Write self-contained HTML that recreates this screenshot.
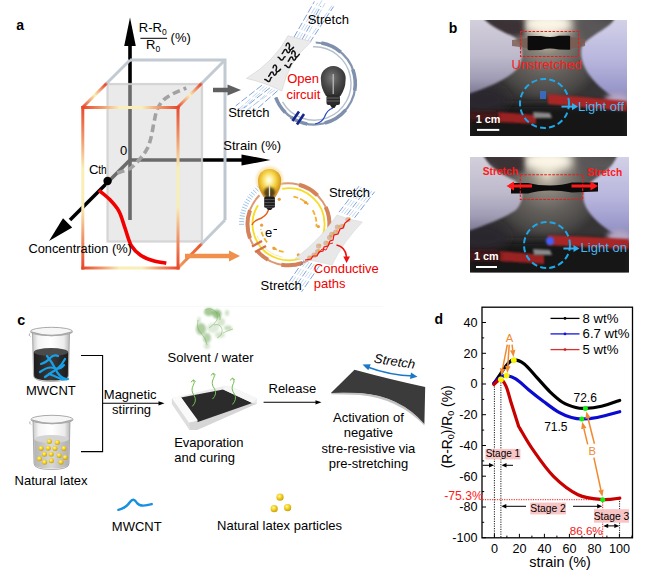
<!DOCTYPE html>
<html><head><meta charset="utf-8"><style>
html,body{margin:0;padding:0;background:#fff;}
svg{display:block;}
</style></head><body>
<svg width="653" height="580" viewBox="0 0 653 580">
<rect width="653" height="580" fill="#fff"/>
<defs>
<linearGradient id="gTop" x1="83" y1="0" x2="178" y2="0" gradientUnits="userSpaceOnUse">
 <stop offset="0" stop-color="#e8482c"/><stop offset="0.2" stop-color="#f09a6c"/><stop offset="0.38" stop-color="#f8eeb6"/><stop offset="0.62" stop-color="#f8eeb6"/><stop offset="0.8" stop-color="#f09a6c"/><stop offset="1" stop-color="#e8482c"/></linearGradient>
<linearGradient id="gBot" x1="83" y1="0" x2="178" y2="0" gradientUnits="userSpaceOnUse">
 <stop offset="0" stop-color="#e8482c"/><stop offset="0.2" stop-color="#f09a6c"/><stop offset="0.38" stop-color="#f8eeb6"/><stop offset="0.62" stop-color="#f8eeb6"/><stop offset="0.8" stop-color="#f09a6c"/><stop offset="1" stop-color="#e8482c"/></linearGradient>
<linearGradient id="gLeft" x1="0" y1="107" x2="0" y2="268" gradientUnits="userSpaceOnUse">
 <stop offset="0" stop-color="#e8482c"/><stop offset="0.2" stop-color="#f09a6c"/><stop offset="0.38" stop-color="#f8eeb6"/><stop offset="0.62" stop-color="#f8eeb6"/><stop offset="0.8" stop-color="#f09a6c"/><stop offset="1" stop-color="#e8482c"/></linearGradient>
<linearGradient id="gRight" x1="0" y1="107" x2="0" y2="268" gradientUnits="userSpaceOnUse">
 <stop offset="0" stop-color="#e8482c"/><stop offset="0.2" stop-color="#f09a6c"/><stop offset="0.38" stop-color="#f8eeb6"/><stop offset="0.62" stop-color="#f8eeb6"/><stop offset="0.8" stop-color="#f09a6c"/><stop offset="1" stop-color="#e8482c"/></linearGradient>
<linearGradient id="gDiagL" x1="83" y1="107" x2="130" y2="60" gradientUnits="userSpaceOnUse">
 <stop offset="0" stop-color="#e8482c"/><stop offset="0.25" stop-color="#f9f0b4"/><stop offset="0.48" stop-color="#e8482c"/><stop offset="0.52" stop-color="#c2cad2"/><stop offset="1" stop-color="#c2cad2"/></linearGradient>
<linearGradient id="gDiagR" x1="178" y1="107" x2="225" y2="60" gradientUnits="userSpaceOnUse">
 <stop offset="0" stop-color="#e8482c"/><stop offset="0.25" stop-color="#f9f0b4"/><stop offset="0.48" stop-color="#e8482c"/><stop offset="0.52" stop-color="#c2cad2"/><stop offset="1" stop-color="#c2cad2"/></linearGradient>
<linearGradient id="gDiagB" x1="178" y1="268" x2="225" y2="220" gradientUnits="userSpaceOnUse">
 <stop offset="0" stop-color="#f0a060"/><stop offset="0.48" stop-color="#e8582c"/><stop offset="0.52" stop-color="#c2cad2"/><stop offset="1" stop-color="#c2cad2"/></linearGradient>
<linearGradient id="gBack" x1="0" y1="60" x2="0" y2="220" gradientUnits="userSpaceOnUse">
 <stop offset="0" stop-color="#c2cad2"/><stop offset="1" stop-color="#bcc6ce"/></linearGradient>
<radialGradient id="bulbOff" cx="0.45" cy="0.4" r="0.6">
 <stop offset="0" stop-color="#7a7a7a"/><stop offset="0.55" stop-color="#4c4c4c"/><stop offset="1" stop-color="#303030"/></radialGradient>
<radialGradient id="bulbOn" cx="0.47" cy="0.4" r="0.6">
 <stop offset="0" stop-color="#ffffff"/><stop offset="0.2" stop-color="#fff4b0"/><stop offset="0.55" stop-color="#f2cc38"/><stop offset="0.85" stop-color="#d49a22"/><stop offset="1" stop-color="#e8a040"/></radialGradient>
<radialGradient id="ball" cx="0.4" cy="0.35" r="0.65">
 <stop offset="0" stop-color="#fff8a0"/><stop offset="0.5" stop-color="#f4d020"/><stop offset="1" stop-color="#c8a010"/></radialGradient>
<linearGradient id="glass" x1="0" y1="0" x2="1" y2="0">
 <stop offset="0" stop-color="#c8c8c8"/><stop offset="0.15" stop-color="#f4f4f4"/><stop offset="0.5" stop-color="#ffffff"/><stop offset="0.85" stop-color="#ececec"/><stop offset="1" stop-color="#b8b8b8"/></linearGradient>
<linearGradient id="liqDark" x1="0" y1="0" x2="1" y2="0">
 <stop offset="0" stop-color="#1c1c1c"/><stop offset="0.5" stop-color="#3a3a3a"/><stop offset="1" stop-color="#1c1c1c"/></linearGradient>
<linearGradient id="liqLight" x1="0" y1="0" x2="1" y2="0">
 <stop offset="0" stop-color="#b4b4b4"/><stop offset="0.5" stop-color="#d8d8d8"/><stop offset="1" stop-color="#b0b0b0"/></linearGradient>
<filter id="b1" x="-50%" y="-50%" width="200%" height="200%"><feGaussianBlur stdDeviation="1"/></filter>
<filter id="b2" x="-50%" y="-50%" width="200%" height="200%"><feGaussianBlur stdDeviation="2.5"/></filter>
<filter id="b4" x="-50%" y="-50%" width="200%" height="200%"><feGaussianBlur stdDeviation="5"/></filter>
<filter id="b8" x="-50%" y="-50%" width="200%" height="200%"><feGaussianBlur stdDeviation="9"/></filter>
<filter id="u1" filterUnits="userSpaceOnUse" x="0" y="0" width="653" height="580"><feGaussianBlur stdDeviation="1"/></filter>
<filter id="u2" filterUnits="userSpaceOnUse" x="0" y="0" width="653" height="580"><feGaussianBlur stdDeviation="2.5"/></filter>
<filter id="u4" filterUnits="userSpaceOnUse" x="0" y="0" width="653" height="580"><feGaussianBlur stdDeviation="5"/></filter>
<radialGradient id="tableG" cx="0.5" cy="0.5" r="0.5">
 <stop offset="0" stop-color="#d8d0bc"/><stop offset="0.25" stop-color="#8c867c"/><stop offset="0.55" stop-color="#64605c"/><stop offset="0.85" stop-color="#4a4846"/><stop offset="1" stop-color="#363434"/></radialGradient>
<linearGradient id="handL" x1="0" y1="0" x2="0" y2="1">
 <stop offset="0" stop-color="#d4d0dc"/><stop offset="0.5" stop-color="#bebacc"/><stop offset="0.8" stop-color="#a09cb4"/><stop offset="1" stop-color="#7c7892"/></linearGradient>
<linearGradient id="handR" x1="0" y1="0" x2="0" y2="1">
 <stop offset="0" stop-color="#d4d2e8"/><stop offset="0.5" stop-color="#b6b4dc"/><stop offset="0.8" stop-color="#9a98ca"/><stop offset="1" stop-color="#7c7aa6"/></linearGradient>
<clipPath id="ph1"><rect x="470" y="20" width="157" height="116"/></clipPath>
<clipPath id="ph2"><rect x="470" y="157" width="159" height="115.5"/></clipPath>
<marker id="ahK" viewBox="0 0 10 10" refX="9" refY="5" markerWidth="7" markerHeight="7" markerUnits="userSpaceOnUse" orient="auto"><path d="M0,1 L10,5 L0,9 z" fill="#000"/></marker>
</defs>
<text x="16.2" y="29.8" font-family="'Liberation Sans', sans-serif" font-size="14" font-weight="bold">a</text>
<line x1="130" y1="44" x2="130" y2="220" stroke="#000" stroke-width="3.6"/>
<polygon points="130,17.5 124.2,46 135.8,46" fill="#000"/>
<line x1="130" y1="160" x2="243" y2="160" stroke="#000" stroke-width="3.6"/>
<polygon points="270.5,160 241.5,154.4 241.5,165.6" fill="#000"/>
<line x1="130" y1="160" x2="70" y2="220" stroke="#000" stroke-width="3.6"/>
<polygon points="49,241 63,218.2 72.2,227.4" fill="#000"/>
<rect x="107.5" y="84" width="94.5" height="157.5" fill="rgb(214,214,214)" fill-opacity="0.5" stroke="#cfcfcf" stroke-opacity="0.85" stroke-width="2.2"/>
<path d="M117.1,173.0 C119.3,172.2 126.5,170.7 130.4,168.2 C134.4,165.7 138.0,161.1 140.8,157.8 C143.6,154.5 145.7,151.8 147.4,148.3 C149.1,144.8 150.1,141.3 151.2,136.9 C152.3,132.5 153.1,126.1 154.1,121.7 C155.1,117.3 155.5,113.9 156.9,110.4 C158.3,106.9 160.1,103.6 162.6,100.9 C165.1,98.2 168.1,96.4 172.1,94.2 C176.1,92.0 183.9,89.0 186.3,88.0" fill="none" stroke="#a2a2a2" stroke-width="3.6" stroke-dasharray="7.5,4"/>
<polyline points="130,60 225,60 225,220" fill="none" stroke="url(#gBack)" stroke-width="3"/>
<line x1="83" y1="107" x2="130" y2="60" stroke="url(#gDiagL)" stroke-width="3"/>
<line x1="178" y1="107" x2="225" y2="60" stroke="url(#gDiagR)" stroke-width="3"/>
<line x1="178" y1="268" x2="225" y2="220" stroke="url(#gDiagB)" stroke-width="3"/>
<line x1="81.3" y1="107.5" x2="179.5" y2="107.5" stroke="url(#gTop)" stroke-width="3"/>
<line x1="81.3" y1="268" x2="179.5" y2="268" stroke="url(#gBot)" stroke-width="3"/>
<line x1="82.8" y1="106" x2="82.8" y2="269.5" stroke="url(#gLeft)" stroke-width="3"/>
<line x1="178" y1="106" x2="178" y2="269.5" stroke="url(#gRight)" stroke-width="3"/>
<path d="M98.9,190.4 C100.6,191.8 105.9,195.5 109.2,199.0 C112.5,202.5 116.3,206.4 119.0,211.3 C121.7,216.2 123.0,222.7 125.1,228.4 C127.1,234.1 128.7,241.1 131.3,245.6 C134.0,250.1 137.3,252.9 141.0,255.4 C144.7,257.9 149.1,259.5 153.3,260.8 C157.5,262.1 164.1,262.8 166.3,263.2" fill="none" stroke="#f20000" stroke-width="3.6"/>
<circle cx="107.6" cy="181" r="4.2" fill="#000"/>
<text x="120.0" y="155" font-family="'Liberation Sans', sans-serif" font-size="13">0</text>
<text x="88.9" y="173.5" font-family="'Liberation Sans', sans-serif" font-size="13.2">C</text>
<text transform="translate(98.3,173.5) scale(0.8,1)" font-family="'Liberation Sans', sans-serif" font-size="12.6">th</text>
<text x="28.4" y="252.8" font-family="'Liberation Sans', sans-serif" font-size="12.85">Concentration (%)</text>
<text x="223.3" y="149.6" font-family="'Liberation Sans', sans-serif" font-size="13">Strain (%)</text>
<text x="138.8" y="32.4" font-family="'Liberation Sans', sans-serif" font-size="13">R-R<tspan font-size="8.5" dy="2.6">0</tspan></text>
<line x1="140.4" y1="38.3" x2="167.1" y2="38.3" stroke="#000" stroke-width="1"/>
<text x="146.0" y="49.3" font-family="'Liberation Sans', sans-serif" font-size="13">R<tspan font-size="8.5" dy="2.6">0</tspan></text>
<text x="170.6" y="42.3" font-family="'Liberation Sans', sans-serif" font-size="13">(%)</text>
<line x1="213" y1="90" x2="229" y2="90" stroke="#606060" stroke-width="4.5"/>
<polygon points="241,90 227.5,84.5 227.5,95.5" fill="#606060"/>
<line x1="185" y1="256" x2="231" y2="256" stroke="#f0904c" stroke-width="4.5"/>
<polygon points="240,256 229,250.5 229,261.5" fill="#f0904c"/>
<line x1="294.0" y1="37.2" x2="314.4" y2="1.5" stroke="#4a7ac8" stroke-width="0.7" stroke-dasharray="7,2.5"/>
<line x1="296.6" y1="38.1" x2="317.8" y2="2.7" stroke="#a8c4e8" stroke-width="0.7" stroke-dasharray="7,2.5"/>
<line x1="299.2" y1="39.0" x2="322.0" y2="0.4" stroke="#a8c4e8" stroke-width="0.7" stroke-dasharray="7,2.5"/>
<line x1="301.8" y1="39.9" x2="320.9" y2="6.0" stroke="#4a7ac8" stroke-width="0.7" stroke-dasharray="7,2.5"/>
<line x1="304.4" y1="40.8" x2="325.0" y2="3.2" stroke="#a8c4e8" stroke-width="0.7" stroke-dasharray="7,2.5"/>
<line x1="307.0" y1="41.8" x2="332.0" y2="5.6" stroke="#a8c4e8" stroke-width="0.7" stroke-dasharray="7,2.5"/>
<line x1="309.6" y1="42.7" x2="333.6" y2="6.5" stroke="#4a7ac8" stroke-width="0.7" stroke-dasharray="7,2.5"/>
<line x1="262.0" y1="85.2" x2="235.8" y2="105.8" stroke="#4a7ac8" stroke-width="0.7" stroke-dasharray="7,2.5"/>
<line x1="264.6" y1="86.1" x2="238.4" y2="109.6" stroke="#a8c4e8" stroke-width="0.7" stroke-dasharray="7,2.5"/>
<line x1="267.2" y1="87.0" x2="240.3" y2="110.0" stroke="#a8c4e8" stroke-width="0.7" stroke-dasharray="7,2.5"/>
<line x1="269.8" y1="87.9" x2="243.8" y2="108.2" stroke="#4a7ac8" stroke-width="0.7" stroke-dasharray="7,2.5"/>
<line x1="272.4" y1="88.8" x2="246.9" y2="111.2" stroke="#a8c4e8" stroke-width="0.7" stroke-dasharray="7,2.5"/>
<line x1="275.0" y1="89.8" x2="246.8" y2="109.9" stroke="#a8c4e8" stroke-width="0.7" stroke-dasharray="7,2.5"/>
<line x1="277.6" y1="90.7" x2="252.8" y2="112.6" stroke="#4a7ac8" stroke-width="0.7" stroke-dasharray="7,2.5"/>
<path d="M313.0,46.8 A36.7,36.7 0 1 1 282.5,101.8" fill="none" stroke="#b4c0cc" stroke-width="1.4"/>
<path d="M315.7,42.5 A41.0,41.0 0 1 1 275.8,97.5" fill="none" stroke="#8495b0" stroke-width="2.2"/>
<path d="M321.4,43.1 A41.0,41.0 0 0 1 340.7,52.1" fill="none" stroke="#7f90ac" stroke-width="3.6"/>
<path d="M352.8,69.5 A41.0,41.0 0 0 1 354.7,90.6" fill="none" stroke="#7f90ac" stroke-width="3.6"/>
<path d="M345.7,109.9 A41.0,41.0 0 0 1 324.9,123.1" fill="none" stroke="#7f90ac" stroke-width="3.6"/>
<path d="M307.2,123.9 A41.0,41.0 0 0 1 290.8,117.1" fill="none" stroke="#7f90ac" stroke-width="3.6"/>
<path d="M285.3,112.5 A41.0,41.0 0 0 1 275.8,97.5" fill="none" stroke="#7f90ac" stroke-width="3.6"/>
<line x1="292.5" y1="121" x2="299" y2="111.5" stroke="#16258c" stroke-width="2.6"/>
<line x1="297" y1="124.5" x2="304" y2="114" stroke="#16258c" stroke-width="2.6"/>
<path d="M288,35.8 Q300,39 311.4,41.4 Q288,62 281.8,91 Q263,82 246.4,78.4 Q274,62 288,35.8 Z" fill="#ebebeb" stroke="#d0d0d0" stroke-width="0.6"/>
<path transform="translate(290,45) rotate(-11)" d="M-4,0 c1,-3 3,-3 3.5,-0.5 c0.5,2.5 -2,3 -1,4.5 c1,1.5 3,0 4.5,-1" fill="none" stroke="#111" stroke-width="1.5" stroke-linecap="round"/>
<path transform="translate(286,52) rotate(-8)" d="M-4,1 c2,-1 2,-4 4,-3.5 c2,0.5 0,3 2,3.5 c1.5,0.3 2,-1.5 2.5,-2.5" fill="none" stroke="#111" stroke-width="1.5" stroke-linecap="round"/>
<path transform="translate(281.5,59.5) rotate(3)" d="M-3.5,-2 c2,0 2,3 4,2.5 c2,-0.5 1,-3.5 3,-3.5" fill="none" stroke="#111" stroke-width="1.5" stroke-linecap="round"/>
<path transform="translate(277,67) rotate(-11)" d="M-4,0 c1,-3 3,-3 3.5,-0.5 c0.5,2.5 -2,3 -1,4.5 c1,1.5 3,0 4.5,-1" fill="none" stroke="#111" stroke-width="1.5" stroke-linecap="round"/>
<path transform="translate(272.5,74.5) rotate(-10)" d="M-4,1 c2,-1 2,-4 4,-3.5 c2,0.5 0,3 2,3.5 c1.5,0.3 2,-1.5 2.5,-2.5" fill="none" stroke="#111" stroke-width="1.5" stroke-linecap="round"/>
<path transform="translate(268.5,81) rotate(-7)" d="M-3.5,-2 c2,0 2,3 4,2.5 c2,-0.5 1,-3.5 3,-3.5" fill="none" stroke="#111" stroke-width="1.5" stroke-linecap="round"/>
<path transform="translate(295.5,52.5) rotate(-19)" d="M-4,0 c1,-3 3,-3 3.5,-0.5 c0.5,2.5 -2,3 -1,4.5 c1,1.5 3,0 4.5,-1" fill="none" stroke="#111" stroke-width="1.5" stroke-linecap="round"/>
<path transform="translate(292,59.5) rotate(-10)" d="M-4,1 c2,-1 2,-4 4,-3.5 c2,0.5 0,3 2,3.5 c1.5,0.3 2,-1.5 2.5,-2.5" fill="none" stroke="#111" stroke-width="1.5" stroke-linecap="round"/>
<path transform="translate(288.5,67) rotate(-6)" d="M-3.5,-2 c2,0 2,3 4,2.5 c2,-0.5 1,-3.5 3,-3.5" fill="none" stroke="#111" stroke-width="1.5" stroke-linecap="round"/>
<path d="M326,96 Q321,88 321,81 A12.5,12.5 0 1 1 345.5,81 Q345.5,88 340.5,96 Z" fill="url(#bulbOff)"/>
<rect x="326.5" y="95" width="13.5" height="10" rx="2" fill="#2a2a2a"/>
<line x1="326.5" y1="98" x2="340" y2="98" stroke="#777" stroke-width="0.8"/><line x1="326.5" y1="101" x2="340" y2="101" stroke="#777" stroke-width="0.8"/>
<path d="M330,105 L336.5,105 L334.5,108 L332,108 Z" fill="#222"/>
<line x1="333.2" y1="74" x2="333.2" y2="94" stroke="#c8c8c8" stroke-width="1.1"/>
<path d="M333,108 Q327,110 324.5,117 Q322,122.5 315,124" fill="none" stroke="#2848c0" stroke-width="1.2"/>
<text x="307.7" y="23.5" font-family="'Liberation Sans', sans-serif" font-size="13">Stretch</text>
<text x="228.2" y="116.5" font-family="'Liberation Sans', sans-serif" font-size="13">Stretch</text>
<text x="287.2" y="83.4" font-family="'Liberation Sans', sans-serif" font-size="13" fill="#f00000">Open</text>
<text x="286.4" y="99" font-family="'Liberation Sans', sans-serif" font-size="13" fill="#f00000">circuit</text>
<line x1="244.0" y1="224.3" x2="239.0" y2="224.3" stroke="#9cc4ec" stroke-width="1"/>
<line x1="244.1" y1="221.7" x2="239.1" y2="221.4" stroke="#9cc4ec" stroke-width="1"/>
<line x1="244.3" y1="219.0" x2="239.3" y2="218.4" stroke="#9cc4ec" stroke-width="1"/>
<line x1="244.7" y1="216.4" x2="239.8" y2="215.5" stroke="#9cc4ec" stroke-width="1"/>
<line x1="245.2" y1="213.8" x2="240.4" y2="212.7" stroke="#9cc4ec" stroke-width="1"/>
<line x1="245.9" y1="211.3" x2="241.2" y2="209.8" stroke="#9cc4ec" stroke-width="1"/>
<line x1="246.8" y1="208.8" x2="242.1" y2="207.0" stroke="#9cc4ec" stroke-width="1"/>
<line x1="247.8" y1="206.3" x2="243.2" y2="204.3" stroke="#9cc4ec" stroke-width="1"/>
<line x1="248.9" y1="204.0" x2="244.5" y2="201.7" stroke="#9cc4ec" stroke-width="1"/>
<line x1="250.2" y1="201.6" x2="245.9" y2="199.1" stroke="#9cc4ec" stroke-width="1"/>
<line x1="251.6" y1="199.4" x2="247.5" y2="196.6" stroke="#9cc4ec" stroke-width="1"/>
<line x1="253.1" y1="197.3" x2="249.2" y2="194.2" stroke="#9cc4ec" stroke-width="1"/>
<line x1="254.8" y1="195.2" x2="251.0" y2="192.0" stroke="#9cc4ec" stroke-width="1"/>
<line x1="256.6" y1="193.3" x2="253.0" y2="189.8" stroke="#9cc4ec" stroke-width="1"/>
<line x1="258.5" y1="191.4" x2="255.1" y2="187.7" stroke="#9cc4ec" stroke-width="1"/>
<line x1="260.5" y1="189.7" x2="257.3" y2="185.8" stroke="#9cc4ec" stroke-width="1"/>
<path d="M268.0,188.8 A41.0,41.0 0 1 1 257.1,250.7" fill="none" stroke="#dc9a74" stroke-width="2"/>
<path d="M253.0,244.8 A41.0,41.0 0 0 1 259.5,195.3" fill="none" stroke="#dc9a74" stroke-width="2"/>
<path d="M299.1,184.7 A41.0,41.0 0 0 1 317.5,195.3" fill="none" stroke="#d4825a" stroke-width="4"/>
<path d="M325.7,207.0 A41.0,41.0 0 0 1 329.3,227.9" fill="none" stroke="#d4825a" stroke-width="4"/>
<path d="M302.5,262.8 A41.0,41.0 0 0 1 281.4,264.7" fill="none" stroke="#d4825a" stroke-width="4"/>
<path d="M268.0,259.8 A41.0,41.0 0 0 1 257.1,250.7" fill="none" stroke="#d4825a" stroke-width="4"/>
<path d="M250.0,238.3 A41.0,41.0 0 0 1 250.0,210.3" fill="none" stroke="#d4825a" stroke-width="4"/>
<path d="M282.2,188.8 A36.0,36.0 0 1 1 258.0,205.2" fill="none" stroke="#f6dc24" stroke-width="1.8"/>
<path d="M282.7,257.3 A33.5,33.5 0 0 1 257.0,235.8" fill="none" stroke="#f8ecb0" stroke-width="1"/>
<path d="M293.4,196.7 A28.0,28.0 0 0 1 308.3,204.5" fill="none" stroke="#f4b030" stroke-width="1.8" stroke-dasharray="5,2"/>
<path d="M312.7,210.3 A28.0,28.0 0 0 1 316.4,226.7" fill="none" stroke="#f4b030" stroke-width="1.8" stroke-dasharray="5,2"/>
<path d="M283.6,251.9 A28.0,28.0 0 0 1 272.4,247.2" fill="none" stroke="#f4b030" stroke-width="1.8" stroke-dasharray="5,2"/>
<path d="M267.1,242.3 A28.0,28.0 0 0 1 260.9,229.2" fill="none" stroke="#f4b030" stroke-width="1.8" stroke-dasharray="5,2"/>
<circle cx="279.3" cy="199.3" r="1.6" fill="#e8a040"/>
<circle cx="305.5" cy="202.4" r="1.6" fill="#e8a040"/>
<circle cx="318.4" cy="226.6" r="1.6" fill="#e8a040"/>
<circle cx="261.6" cy="225.2" r="1.6" fill="#e8a040"/>
<circle cx="274.1" cy="248.4" r="1.6" fill="#e8a040"/>
<circle cx="298.3" cy="254.8" r="1.6" fill="#e8a040"/>
<circle cx="312" cy="254.1" r="1.6" fill="#e8a040"/>
<line x1="252" y1="246.5" x2="262" y2="241" stroke="#d4704a" stroke-width="2.4"/>
<line x1="255" y1="252" x2="266" y2="246" stroke="#d4704a" stroke-width="2.4"/>
<path d="M337,215 Q350,220 362.5,222 Q343,242 332,265 Q313,260 295,258.5 Q320,240 337,215 Z" fill="#e8e8e8" stroke="#d4d4d4" stroke-width="0.5"/>
<circle cx="309.6" cy="258.0" r="2.6" fill="#c89070" opacity="0.55"/>
<circle cx="311.1" cy="257.0" r="1.2" fill="#e8b040" opacity="0.9"/>
<circle cx="314.1" cy="255.2" r="2.6" fill="#c89070" opacity="0.55"/>
<circle cx="315.6" cy="254.2" r="1.2" fill="#e8b040" opacity="0.9"/>
<circle cx="317.6" cy="251.5" r="2.6" fill="#c89070" opacity="0.55"/>
<circle cx="319.1" cy="250.5" r="1.2" fill="#e8b040" opacity="0.9"/>
<circle cx="318.6" cy="246.1" r="2.6" fill="#c89070" opacity="0.55"/>
<circle cx="320.1" cy="245.1" r="1.2" fill="#e8b040" opacity="0.9"/>
<circle cx="326.0" cy="243.2" r="2.6" fill="#c89070" opacity="0.55"/>
<circle cx="327.5" cy="242.2" r="1.2" fill="#e8b040" opacity="0.9"/>
<circle cx="329.6" cy="237.5" r="2.6" fill="#c89070" opacity="0.55"/>
<circle cx="331.1" cy="236.5" r="1.2" fill="#e8b040" opacity="0.9"/>
<circle cx="331.7" cy="234.4" r="2.6" fill="#c89070" opacity="0.55"/>
<circle cx="333.2" cy="233.4" r="1.2" fill="#e8b040" opacity="0.9"/>
<circle cx="335.7" cy="232.1" r="2.6" fill="#c89070" opacity="0.55"/>
<circle cx="337.2" cy="231.1" r="1.2" fill="#e8b040" opacity="0.9"/>
<circle cx="337.4" cy="227.1" r="2.6" fill="#c89070" opacity="0.55"/>
<circle cx="338.9" cy="226.1" r="1.2" fill="#e8b040" opacity="0.9"/>
<circle cx="342.2" cy="226.3" r="2.6" fill="#c89070" opacity="0.55"/>
<circle cx="343.7" cy="225.3" r="1.2" fill="#e8b040" opacity="0.9"/>
<circle cx="348.0" cy="219.6" r="2.6" fill="#c89070" opacity="0.55"/>
<circle cx="349.5" cy="218.6" r="1.2" fill="#e8b040" opacity="0.9"/>
<path d="M305,260 L311,259 L313,256 L317,256 L319,252 L323,251 L324,247 L328,246 L330,241 L333,240 L334,235 L338,234 L340,229 L343,228 L345,223 L350,219" fill="none" stroke="#f01010" stroke-width="1.2"/>
<path d="M318,254 L322,249 L326,250 L329,244 L333,243" fill="none" stroke="#f01010" stroke-width="0.9"/>
<line x1="339.0" y1="212.2" x2="359.0" y2="186.2" stroke="#4a7ac8" stroke-width="0.7" stroke-dasharray="7,2.5"/>
<line x1="341.6" y1="213.1" x2="361.6" y2="187.1" stroke="#a8c4e8" stroke-width="0.7" stroke-dasharray="7,2.5"/>
<line x1="344.2" y1="214.0" x2="364.2" y2="188.0" stroke="#a8c4e8" stroke-width="0.7" stroke-dasharray="7,2.5"/>
<line x1="346.8" y1="214.9" x2="366.8" y2="188.9" stroke="#4a7ac8" stroke-width="0.7" stroke-dasharray="7,2.5"/>
<line x1="349.4" y1="215.8" x2="369.4" y2="189.8" stroke="#a8c4e8" stroke-width="0.7" stroke-dasharray="7,2.5"/>
<line x1="352.0" y1="216.8" x2="372.0" y2="190.8" stroke="#a8c4e8" stroke-width="0.7" stroke-dasharray="7,2.5"/>
<line x1="354.6" y1="217.7" x2="374.6" y2="191.7" stroke="#4a7ac8" stroke-width="0.7" stroke-dasharray="7,2.5"/>
<line x1="304.0" y1="260.2" x2="286.0" y2="286.2" stroke="#4a7ac8" stroke-width="0.7" stroke-dasharray="7,2.5"/>
<line x1="306.6" y1="261.1" x2="288.6" y2="287.1" stroke="#a8c4e8" stroke-width="0.7" stroke-dasharray="7,2.5"/>
<line x1="309.2" y1="262.0" x2="291.2" y2="288.0" stroke="#a8c4e8" stroke-width="0.7" stroke-dasharray="7,2.5"/>
<line x1="311.8" y1="262.9" x2="293.8" y2="288.9" stroke="#4a7ac8" stroke-width="0.7" stroke-dasharray="7,2.5"/>
<line x1="314.4" y1="263.8" x2="296.4" y2="289.8" stroke="#a8c4e8" stroke-width="0.7" stroke-dasharray="7,2.5"/>
<line x1="317.0" y1="264.8" x2="299.0" y2="290.8" stroke="#a8c4e8" stroke-width="0.7" stroke-dasharray="7,2.5"/>
<line x1="319.6" y1="265.7" x2="301.6" y2="291.7" stroke="#4a7ac8" stroke-width="0.7" stroke-dasharray="7,2.5"/>
<path d="M336.5,245 Q346,247 346.5,258" fill="none" stroke="#f01010" stroke-width="1.6"/>
<polygon points="346.6,263 343.3,256.5 350,256.5" fill="#f01010"/>
<circle cx="269.5" cy="180" r="13.8" fill="#f8d890" opacity="0.6" filter="url(#b1)"/>
<path d="M263.5,197 Q258,189 258,180.5 A11.6,11.6 0 1 1 281.2,180.5 Q281,189 275.5,197 Z" fill="url(#bulbOn)"/>
<ellipse cx="269.5" cy="192.5" rx="5.5" ry="5.5" fill="#2a2010" opacity="0.75" filter="url(#b1)"/>
<line x1="269.5" y1="186" x2="269.5" y2="197" stroke="#ddd" stroke-width="1.3"/>
<rect x="264.2" y="196.5" width="10.7" height="11.2" rx="1.5" fill="#1e1e1e"/>
<line x1="264.2" y1="199.6" x2="274.9" y2="199.6" stroke="#666" stroke-width="0.8"/><line x1="264.2" y1="202.6" x2="274.9" y2="202.6" stroke="#666" stroke-width="0.8"/><line x1="264.2" y1="205.6" x2="274.9" y2="205.6" stroke="#666" stroke-width="0.8"/>
<path d="M266,207.5 L273,207.5 L271,210 L268,210 Z" fill="#222"/>
<path d="M268.5,210 Q266,217 258,219.5 Q253,221.5 252,225" fill="none" stroke="#e06018" stroke-width="1.4"/>
<text x="264.9" y="237.2" font-family="'Liberation Sans', sans-serif" font-size="13">e</text>
<line x1="273.5" y1="229.5" x2="277" y2="229.5" stroke="#000" stroke-width="1"/>
<text x="328.9" y="197.4" font-family="'Liberation Sans', sans-serif" font-size="13">Stretch</text>
<text x="260.6" y="290.3" font-family="'Liberation Sans', sans-serif" font-size="13">Stretch</text>
<text x="313.8" y="273.4" font-family="'Liberation Sans', sans-serif" font-size="13" fill="#f00000">Conductive</text>
<text x="313.8" y="288" font-family="'Liberation Sans', sans-serif" font-size="13" fill="#f00000">paths</text>
<text x="448.8" y="32.8" font-family="'Liberation Sans', sans-serif" font-size="14" font-weight="bold">b</text>
<g clip-path="url(#ph1)">
<rect x="470" y="20" width="157" height="116" fill="#363434"/>
<ellipse cx="547" cy="38" rx="62" ry="66" fill="url(#tableG)"/>
<ellipse cx="548" cy="24" rx="26" ry="11" fill="#fbf6e6" filter="url(#u4)"/>
<polygon points="486.0,18.0 524.0,18.0 524.0,36.0 500.0,36.0" fill="#3a3034" filter="url(#u2)"/>
<polygon points="575.0,18.0 627.0,18.0 627.0,38.0 582.0,40.0" fill="#5a5658" filter="url(#u4)"/>
<rect x="465" y="104" width="167" height="42" fill="#141214" filter="url(#u4)"/>
<ellipse cx="482" cy="100" rx="26" ry="14" fill="#2a262e" filter="url(#u4)"/>
<path d="M468.0,18.0 L483.0,18.0 C492.0,28.0 504.0,32.0 514.0,37.0 C524.0,44.0 525.0,60.0 516.0,70.0 C506.0,80.0 486.0,88.0 468.0,94.0 Z" fill="url(#handL)" filter="url(#u1)"/>
<path d="M629.0,18.0 L615.0,18.0 C611.0,28.0 591.0,34.0 582.0,46.0 C577.0,64.0 593.0,88.0 629.0,106.0 Z" fill="url(#handR)" filter="url(#u1)"/>
<ellipse cx="617" cy="100" rx="12" ry="7" fill="#b4a6c4" filter="url(#u2)"/>
<polygon points="498.0,112.0 536.0,115.0 536.0,124.0 498.0,122.0" fill="#9a2424" filter="url(#u1)"/>
<polygon points="468.0,112.0 498.0,112.0 498.0,122.0 468.0,120.0" fill="#4a1418" filter="url(#u2)"/>
<polygon points="548.0,94.0 627.0,101.0 627.0,111.0 548.0,104.0" fill="#a82828" filter="url(#u1)"/>
<polygon points="533.0,112.0 550.0,113.0 552.0,118.0 534.0,118.0" fill="#8a8a8a" filter="url(#u1)"/>
</g>
<g clip-path="url(#ph2)">
<rect x="470" y="157" width="159" height="115.5" fill="#363434"/>
<ellipse cx="547" cy="175" rx="62" ry="66" fill="url(#tableG)"/>
<ellipse cx="548" cy="161" rx="26" ry="11" fill="#fbf6e6" filter="url(#u4)"/>
<polygon points="486.0,155.0 524.0,155.0 524.0,173.0 500.0,173.0" fill="#3a3034" filter="url(#u2)"/>
<polygon points="577.0,155.0 629.0,155.0 629.0,175.0 584.0,177.0" fill="#5a5658" filter="url(#u4)"/>
<rect x="465" y="241" width="169" height="42" fill="#141214" filter="url(#u4)"/>
<ellipse cx="482" cy="237" rx="26" ry="14" fill="#2a262e" filter="url(#u4)"/>
<path d="M468.0,155.0 L483.0,155.0 C492.0,171.0 504.0,175.0 514.0,180.0 C524.0,187.0 525.0,200.0 516.0,210.0 C506.0,217.0 486.0,225.0 468.0,231.0 Z" fill="url(#handL)" filter="url(#u1)"/>
<path d="M631.0,155.0 L617.0,155.0 C613.0,171.0 593.0,177.0 584.0,189.0 C579.0,207.0 595.0,225.0 631.0,243.0 Z" fill="url(#handR)" filter="url(#u1)"/>
<ellipse cx="619" cy="237" rx="12" ry="7" fill="#b4a6c4" filter="url(#u2)"/>
<polygon points="500.0,251.0 544.0,255.0 544.0,264.0 500.0,261.0" fill="#9a2424" filter="url(#u1)"/>
<polygon points="468.0,251.0 500.0,251.0 500.0,261.0 468.0,260.0" fill="#4a1418" filter="url(#u2)"/>
<polygon points="548.0,235.0 629.0,239.0 629.0,249.0 548.0,245.0" fill="#a82828" filter="url(#u1)"/>
<polygon points="533.0,249.0 550.0,250.0 552.0,255.0 534.0,255.0" fill="#8a8a8a" filter="url(#u1)"/>
</g>
<path d="M527.5,36.5 Q527,36 529,36 L541,36 Q546,37 550,37 Q554,37 559,35.8 L569,35.8 Q570.5,35.8 570.5,37.5 L570.5,48.5 Q570.5,49.8 569,49.8 L559,49.6 Q554,48.6 550,48.6 Q546,48.6 541,50 L529,50.2 Q527.5,50.2 527.5,48.5 Z" fill="#0c0c0c"/>
<path d="M512,40 L527,38 L527,48 L512,46 Z" fill="#7a5a50" opacity="0.8"/><path d="M570,37 L585,39 L585,46 L570,49 Z" fill="#7a5a50" opacity="0.8"/>
<rect x="520.5" y="31.5" width="58" height="25" fill="none" stroke="#f01818" stroke-width="1.1" stroke-dasharray="2.6,1.4"/>
<text x="511.5" y="68.6" font-family="'Liberation Sans', sans-serif" font-size="13" fill="#ff1a1a">Unstretched</text>
<circle cx="544.5" cy="103.5" r="24.5" fill="none" stroke="#1ea8e8" stroke-width="2" stroke-dasharray="6,3.2"/>
<rect x="540" y="91" width="6" height="8" fill="#3a70d0" opacity="0.85"/>
<line x1="561.5" y1="106.6" x2="573" y2="106.6" stroke="#30b0f0" stroke-width="2"/><polygon points="578,106.6 572,103 572,110.2" fill="#30b0f0"/>
<text x="578.0" y="110.8" font-family="'Liberation Sans', sans-serif" font-size="13" fill="#48b8f0">Light off</text>
<text x="475.8" y="123" font-family="'Liberation Sans', sans-serif" font-size="10.8" font-weight="bold" fill="#ffffff">1 cm</text>
<rect x="477" y="128.9" width="22.3" height="2" fill="#fff"/>
<path d="M511,183 L528,183 Q538,185.5 550,185.5 Q562,185.5 572,182.5 L598,182.5 L598,191.5 L572,192.5 Q562,190.5 550,190.5 Q538,190.5 528,193.5 L511,193.5 Z" fill="#0c0c0c"/>
<rect x="520.3" y="174.7" width="62.4" height="24.8" fill="none" stroke="#f01818" stroke-width="1.1" stroke-dasharray="2.6,1.4"/>
<line x1="512" y1="186" x2="532" y2="186" stroke="#ff1a1a" stroke-width="3"/><polygon points="506.5,186 514,181.5 514,190.5" fill="#ff1a1a"/>
<line x1="571.5" y1="186" x2="592" y2="186" stroke="#ff1a1a" stroke-width="3"/><polygon points="598,186 590.5,181.5 590.5,190.5" fill="#ff1a1a"/>
<text x="482.8" y="174.8" font-family="'Liberation Sans', sans-serif" font-size="10.2" font-weight="bold" fill="#ff1a1a">Stretch</text>
<text x="587.0" y="176.4" font-family="'Liberation Sans', sans-serif" font-size="10.2" font-weight="bold" fill="#ff1a1a">Stretch</text>
<circle cx="547" cy="245" r="23" fill="none" stroke="#1ea8e8" stroke-width="2" stroke-dasharray="6,3.2"/>
<circle cx="550" cy="241" r="4" fill="#4060ff" filter="url(#b1)"/>
<line x1="563.4" y1="248.5" x2="574" y2="248.5" stroke="#30b0f0" stroke-width="2"/><polygon points="579.5,248.5 573.5,245 573.5,252" fill="#30b0f0"/>
<text x="580.6" y="252.3" font-family="'Liberation Sans', sans-serif" font-size="13" fill="#48b8f0">Light on</text>
<text x="474.1" y="260" font-family="'Liberation Sans', sans-serif" font-size="10.8" font-weight="bold" fill="#ffffff">1 cm</text>
<rect x="476" y="266" width="21" height="2" fill="#fff"/>
<text x="17.2" y="325.2" font-family="'Liberation Sans', sans-serif" font-size="14.3" font-weight="bold">c</text>
<line x1="40" y1="306.5" x2="383" y2="306.5" stroke="#f8f8f8" stroke-width="1"/>
<path d="M32.5,332.5 L33.5,375.5 Q33.5,381.5 51.0,381.5 Q68.5,381.5 68.5,375.5 L69.5,332.5 Z" fill="url(#glass)" stroke="#9a9a9a" stroke-width="0.8"/>
<path d="M33.8,352 L34.1,375.5 Q34.1,380.5 51.0,380.5 Q67.9,380.5 67.9,375.5 L68.2,352 Z" fill="url(#liqDark)"/>
<ellipse cx="51.0" cy="352" rx="17.2" ry="4" fill="#4a4a4a"/>
<ellipse cx="51.5" cy="331.5" rx="21.0" ry="4.2" fill="#f6f6f6" stroke="#a0a0a0" stroke-width="0.9"/>
<path d="M29.5,333.5 q-1,2 1,3" fill="none" stroke="#a0a0a0" stroke-width="0.9"/>
<path d="M30.8,332.0 Q51.5,339.0 72.2,332.0" fill="none" stroke="#a8a8a8" stroke-width="1.4"/>
<path d="M33,420.5 L34,463.5 Q34,469.5 51.5,469.5 Q69,469.5 69,463.5 L70,420.5 Z" fill="url(#glass)" stroke="#9a9a9a" stroke-width="0.8"/>
<path d="M34.3,439 L34.6,463.5 Q34.6,468.5 51.5,468.5 Q68.4,468.5 68.4,463.5 L68.7,439 Z" fill="url(#liqLight)"/>
<ellipse cx="51.5" cy="439" rx="17.2" ry="4" fill="#d4d4d4"/>
<ellipse cx="52.0" cy="419.5" rx="21.0" ry="4.2" fill="#f6f6f6" stroke="#a0a0a0" stroke-width="0.9"/>
<path d="M30,421.5 q-1,2 1,3" fill="none" stroke="#a0a0a0" stroke-width="0.9"/>
<path d="M31.3,420.0 Q52.0,427.0 72.7,420.0" fill="none" stroke="#a8a8a8" stroke-width="1.4"/>
<path d="M41,364 q6,-2 9,-6 q4,-4 8,-2" fill="none" stroke="#18a0e8" stroke-width="2.2" stroke-linecap="round"/>
<path d="M40,372 q8,-6 14,-4 q6,2 10,-3" fill="none" stroke="#18a0e8" stroke-width="2.2" stroke-linecap="round"/>
<path d="M47,356 q5,6 9,14 q3,7 10,9" fill="none" stroke="#18a0e8" stroke-width="2.2" stroke-linecap="round"/>
<path d="M45,377 q7,-5 12,-8 q5,-4 8,-10" fill="none" stroke="#18a0e8" stroke-width="2.2" stroke-linecap="round"/>
<path d="M49,374 q6,2 12,5 q4,1 7,0" fill="none" stroke="#18a0e8" stroke-width="2.2" stroke-linecap="round"/>
<circle cx="49.4" cy="441.6" r="2.5" fill="url(#ball)"/>
<circle cx="57.4" cy="442.6" r="2.5" fill="url(#ball)"/>
<circle cx="41.2" cy="448.4" r="2.5" fill="url(#ball)"/>
<circle cx="48.3" cy="448.2" r="2.5" fill="url(#ball)"/>
<circle cx="55" cy="448.5" r="2.5" fill="url(#ball)"/>
<circle cx="64" cy="448.4" r="2.5" fill="url(#ball)"/>
<circle cx="44.5" cy="454.3" r="2.5" fill="url(#ball)"/>
<circle cx="51.2" cy="454.3" r="2.5" fill="url(#ball)"/>
<circle cx="59.2" cy="455.5" r="2.5" fill="url(#ball)"/>
<circle cx="65.3" cy="457.4" r="2.5" fill="url(#ball)"/>
<circle cx="39.5" cy="458.8" r="2.5" fill="url(#ball)"/>
<circle cx="44.6" cy="462.3" r="2.5" fill="url(#ball)"/>
<circle cx="51.4" cy="460.8" r="2.5" fill="url(#ball)"/>
<circle cx="61" cy="462.2" r="2.5" fill="url(#ball)"/>
<text x="25.9" y="395.2" font-family="'Liberation Sans', sans-serif" font-size="13">MWCNT</text>
<text x="14.6" y="484.8" font-family="'Liberation Sans', sans-serif" font-size="13">Natural latex</text>
<polyline points="81,355.5 102.6,355.5 102.6,451.6 81,451.6" fill="none" stroke="#000" stroke-width="1.1"/>
<line x1="102.6" y1="403.3" x2="161" y2="403.3" stroke="#000" stroke-width="1.1"/>
<polygon points="164.5,403.3 158.5,401.2 158.5,405.4" fill="#000"/>
<text x="103.8" y="399.1" font-family="'Liberation Sans', sans-serif" font-size="13">Magnetic</text>
<text x="112.1" y="413.7" font-family="'Liberation Sans', sans-serif" font-size="13">stirring</text>
<path d="M171.9,398 L180.3,396.3 L224,386.1 L229.3,385.8 L256.9,398.3 L256.9,403.7 L197,429.9 L189.5,430 L171.9,404 Z" fill="#ececec"/>
<path d="M189,422.5 L197.9,420.5 L252.5,402.8 L256.9,403.7 L197,429.9 L189.5,430 Z" fill="#d6d6d6"/>
<path d="M171.9,398 L189,422.5 L189.5,430 L171.9,404 Z" fill="#dedede"/>
<path d="M181.1,397.6 L223.2,389.6 L252.3,402.9 L197.9,422.1 Z" fill="#2b2b2b"/>
<path d="M171.9,398 L180.3,396.3 L198,420.5 L189,422.5 Z" fill="#fafafa"/>
<path d="M223.2,386.8 L229.3,385.8 L256.9,398.3 L252.3,402.9 L223.2,389.6 Z" fill="#f6f6f6"/>
<path d="M192.3,406.4 q5,-5.3 2,-10.6 q-4,-5.3 -1,-10.6 q2,-2.6 0.0,-5.3" fill="none" stroke="#72c050" stroke-width="1"/>
<path d="M190.9,382.2 L193.3,380 L195.70000000000002,381.6" fill="none" stroke="#72c050" stroke-width="1"/>
<path d="M212.5,399.1 q5,-5.2 2,-10.3 q-4,-5.2 -1,-10.3 q2,-2.6 -0.3,-5.2" fill="none" stroke="#72c050" stroke-width="1"/>
<path d="M210.79999999999998,375.5 L213.2,373.3 L215.6,374.90000000000003" fill="none" stroke="#72c050" stroke-width="1"/>
<path d="M232.4,404.5 q5,-5.3 2,-10.5 q-4,-5.3 -1,-10.5 q2,-2.6 -1.0,-5.3" fill="none" stroke="#72c050" stroke-width="1"/>
<path d="M230.0,380.4 L232.4,378.2 L234.8,379.8" fill="none" stroke="#72c050" stroke-width="1"/>
<g filter="url(#u1)">
<ellipse cx="209" cy="312" rx="5" ry="4" fill="#5c9c40" opacity="0.55"/>
<ellipse cx="217" cy="314" rx="4.5" ry="4.5" fill="#5c9c40" opacity="0.6"/>
<ellipse cx="201" cy="329" rx="5" ry="6" fill="#5c9c40" opacity="0.5"/>
<ellipse cx="207" cy="338" rx="4" ry="5" fill="#5c9c40" opacity="0.45"/>
<ellipse cx="213" cy="328" rx="6" ry="5" fill="#5c9c40" opacity="0.2"/>
<ellipse cx="221" cy="322" rx="4" ry="4" fill="#5c9c40" opacity="0.25"/>
<ellipse cx="220" cy="335" rx="5" ry="3" fill="#5c9c40" opacity="0.25"/>
<ellipse cx="228" cy="328" rx="4" ry="2.5" fill="#5c9c40" opacity="0.35"/>
<ellipse cx="227" cy="313" rx="2" ry="3" fill="#5c9c40" opacity="0.3"/>
<ellipse cx="207" cy="346" rx="3" ry="3" fill="#5c9c40" opacity="0.25"/>
<ellipse cx="199" cy="320" rx="1.5" ry="3" fill="#5c9c40" opacity="0.3"/>
</g>
<path d="M205,310 q5,-3 10,1 q4,4 2,9 q-3,5 -8,8" fill="none" stroke="#6aa850" stroke-width="0.8" opacity="0.6"/>
<path d="M198,320 q-2,8 3,13 q5,5 6,12" fill="none" stroke="#6aa850" stroke-width="0.8" opacity="0.6"/>
<path d="M214,325 q6,-2 8,4 q1,6 -5,9" fill="none" stroke="#6aa850" stroke-width="0.8" opacity="0.6"/>
<path d="M223,333 q6,-3 10,-4" fill="none" stroke="#6aa850" stroke-width="0.8" opacity="0.6"/>
<path d="M216,312 q5,2 4,8" fill="none" stroke="#6aa850" stroke-width="0.8" opacity="0.6"/>
<text x="167.5" y="361.7" font-family="'Liberation Sans', sans-serif" font-size="13">Solvent / water</text>
<text x="174.2" y="446.8" font-family="'Liberation Sans', sans-serif" font-size="13">Evaporation</text>
<text x="174.2" y="462" font-family="'Liberation Sans', sans-serif" font-size="13">and curing</text>
<line x1="263.6" y1="402.3" x2="318" y2="402.3" stroke="#000" stroke-width="1.1"/>
<polygon points="321.5,402.3 315.5,400.2 315.5,404.4" fill="#000"/>
<text x="268.5" y="393" font-family="'Liberation Sans', sans-serif" font-size="13">Release</text>
<path d="M330.9,392.9 L354.5,369.8 Q392,380 425.2,387 L424.4,424.1 Q400,396 360,393 Q345,392.5 330.9,392.9 Z" fill="#3b3b3b"/>
<path d="M330.9,392.9 Q345,392.5 360,393 Q400,396 424.4,424.1 L424.4,425.5 Q398,398.5 360,395 Q345,394.2 331.5,394.2 Z" fill="#9a9a9a" opacity="0.6"/>
<path d="M366,366.5 Q390,375.5 413.5,376" fill="none" stroke="#1a78c8" stroke-width="1.6"/>
<polygon points="362.5,364.5 368.3,370.3 370.7,364.3" fill="#1a78c8"/>
<polygon points="417.5,376.8 410,379 411,372.6" fill="#1a78c8"/>
<text transform="translate(373.6,362.6) rotate(8.6)" font-family="'Liberation Sans', sans-serif" font-size="13" font-style="italic">Stretch</text>
<text x="368.4" y="421.6" text-anchor="middle" font-family="'Liberation Sans', sans-serif" font-size="13">Activation of</text>
<text x="368.4" y="437.3" text-anchor="middle" font-family="'Liberation Sans', sans-serif" font-size="13">negative</text>
<text x="368.4" y="453" text-anchor="middle" font-family="'Liberation Sans', sans-serif" font-size="13">stre-resistive via</text>
<text x="368.4" y="467.5" text-anchor="middle" font-family="'Liberation Sans', sans-serif" font-size="13">pre-stretching</text>
<path d="M118.4,509.9 Q126,508 130,502 Q133.5,497 137,503 Q140,507.5 151.7,504.1" fill="none" stroke="#1890e0" stroke-width="2.4" stroke-linecap="round"/>
<text x="111.8" y="531" font-family="'Liberation Sans', sans-serif" font-size="13">MWCNT</text>
<circle cx="280" cy="497.2" r="3.6" fill="url(#ball)"/>
<circle cx="274.2" cy="508.7" r="3.6" fill="url(#ball)"/>
<circle cx="287.6" cy="507.6" r="3.6" fill="url(#ball)"/>
<text x="217.1" y="529.8" font-family="'Liberation Sans', sans-serif" font-size="13">Natural latex particles</text>
<text x="434.4" y="323.6" font-family="'Liberation Sans', sans-serif" font-size="14" font-weight="bold">d</text>
<rect x="482" y="307.2" width="150.5" height="230.6" fill="none" stroke="#000" stroke-width="1.3"/>
<line x1="482" y1="537.7" x2="486" y2="537.7" stroke="#000" stroke-width="1"/>
<line x1="482" y1="522.3" x2="484.2" y2="522.3" stroke="#000" stroke-width="1"/>
<line x1="482" y1="507.0" x2="486" y2="507.0" stroke="#000" stroke-width="1"/>
<line x1="482" y1="491.6" x2="484.2" y2="491.6" stroke="#000" stroke-width="1"/>
<line x1="482" y1="476.2" x2="486" y2="476.2" stroke="#000" stroke-width="1"/>
<line x1="482" y1="460.9" x2="484.2" y2="460.9" stroke="#000" stroke-width="1"/>
<line x1="482" y1="445.5" x2="486" y2="445.5" stroke="#000" stroke-width="1"/>
<line x1="482" y1="430.1" x2="484.2" y2="430.1" stroke="#000" stroke-width="1"/>
<line x1="482" y1="414.7" x2="486" y2="414.7" stroke="#000" stroke-width="1"/>
<line x1="482" y1="399.4" x2="484.2" y2="399.4" stroke="#000" stroke-width="1"/>
<line x1="482" y1="384.0" x2="486" y2="384.0" stroke="#000" stroke-width="1"/>
<line x1="482" y1="368.6" x2="484.2" y2="368.6" stroke="#000" stroke-width="1"/>
<line x1="482" y1="353.3" x2="486" y2="353.3" stroke="#000" stroke-width="1"/>
<line x1="482" y1="337.9" x2="484.2" y2="337.9" stroke="#000" stroke-width="1"/>
<line x1="482" y1="322.5" x2="486" y2="322.5" stroke="#000" stroke-width="1"/>
<line x1="494.4" y1="537.8" x2="494.4" y2="533.8" stroke="#000" stroke-width="1"/>
<line x1="506.9" y1="537.8" x2="506.9" y2="535.5999999999999" stroke="#000" stroke-width="1"/>
<line x1="519.4" y1="537.8" x2="519.4" y2="533.8" stroke="#000" stroke-width="1"/>
<line x1="531.9" y1="537.8" x2="531.9" y2="535.5999999999999" stroke="#000" stroke-width="1"/>
<line x1="544.4" y1="537.8" x2="544.4" y2="533.8" stroke="#000" stroke-width="1"/>
<line x1="556.9" y1="537.8" x2="556.9" y2="535.5999999999999" stroke="#000" stroke-width="1"/>
<line x1="569.4" y1="537.8" x2="569.4" y2="533.8" stroke="#000" stroke-width="1"/>
<line x1="581.9" y1="537.8" x2="581.9" y2="535.5999999999999" stroke="#000" stroke-width="1"/>
<line x1="594.4" y1="537.8" x2="594.4" y2="533.8" stroke="#000" stroke-width="1"/>
<line x1="606.9" y1="537.8" x2="606.9" y2="535.5999999999999" stroke="#000" stroke-width="1"/>
<line x1="619.4" y1="537.8" x2="619.4" y2="533.8" stroke="#000" stroke-width="1"/>
<line x1="631.9" y1="537.8" x2="631.9" y2="535.5999999999999" stroke="#000" stroke-width="1"/>
<text x="477.5" y="542.0" text-anchor="end" font-family="'Liberation Sans', sans-serif" font-size="12.6">-100</text>
<text x="477.5" y="511.3" text-anchor="end" font-family="'Liberation Sans', sans-serif" font-size="12.6">-80</text>
<text x="477.5" y="480.5" text-anchor="end" font-family="'Liberation Sans', sans-serif" font-size="12.6">-60</text>
<text x="477.5" y="449.8" text-anchor="end" font-family="'Liberation Sans', sans-serif" font-size="12.6">-40</text>
<text x="477.5" y="419.0" text-anchor="end" font-family="'Liberation Sans', sans-serif" font-size="12.6">-20</text>
<text x="477.5" y="388.3" text-anchor="end" font-family="'Liberation Sans', sans-serif" font-size="12.6">0</text>
<text x="477.5" y="357.6" text-anchor="end" font-family="'Liberation Sans', sans-serif" font-size="12.6">20</text>
<text x="477.5" y="326.8" text-anchor="end" font-family="'Liberation Sans', sans-serif" font-size="12.6">40</text>
<text x="494.4" y="552.6" text-anchor="middle" font-family="'Liberation Sans', sans-serif" font-size="12.6">0</text>
<text x="519.4" y="552.6" text-anchor="middle" font-family="'Liberation Sans', sans-serif" font-size="12.6">20</text>
<text x="544.4" y="552.6" text-anchor="middle" font-family="'Liberation Sans', sans-serif" font-size="12.6">40</text>
<text x="569.4" y="552.6" text-anchor="middle" font-family="'Liberation Sans', sans-serif" font-size="12.6">60</text>
<text x="594.4" y="552.6" text-anchor="middle" font-family="'Liberation Sans', sans-serif" font-size="12.6">80</text>
<text x="619.4" y="552.6" text-anchor="middle" font-family="'Liberation Sans', sans-serif" font-size="12.6">100</text>
<text x="560" y="567.3" text-anchor="middle" font-family="'Liberation Sans', sans-serif" font-size="14.4">strain (%)</text>
<text transform="translate(451.8,468.3) rotate(-90)" font-family="'Liberation Sans', sans-serif" font-size="13.8">(R-R<tspan font-size="9" dy="2.5">0</tspan><tspan dy="-2.5">)/R</tspan><tspan font-size="9" dy="2.5">0</tspan><tspan dy="-2.5"> (%)</tspan></text>
<line x1="494.4" y1="384" x2="494.4" y2="537" stroke="#000" stroke-width="0.9" stroke-dasharray="1.2,1.2"/>
<line x1="500.9" y1="380" x2="500.9" y2="537" stroke="#000" stroke-width="0.9" stroke-dasharray="1.2,1.2"/>
<line x1="619.6" y1="498.5" x2="619.6" y2="537" stroke="#000" stroke-width="0.9" stroke-dasharray="1.2,1.2"/>
<line x1="482.5" y1="499.7" x2="602.7" y2="499.7" stroke="#f01818" stroke-width="1" stroke-dasharray="1.2,1.2"/>
<line x1="602.7" y1="499.7" x2="602.7" y2="537" stroke="#f01818" stroke-width="1" stroke-dasharray="1.2,1.2"/>
<path d="M493.9,383.6 C495.0,381.9 498.5,376.8 500.7,373.6 C502.9,370.4 505.0,366.8 507.2,364.5 C509.4,362.2 510.8,359.9 513.6,359.8 C516.5,359.7 520.4,360.9 524.3,363.9 C528.2,366.9 532.9,373.2 537.2,377.9 C541.5,382.5 545.7,387.7 550.0,391.8 C554.3,395.9 558.6,399.9 562.9,402.5 C567.2,405.1 572.0,406.5 575.8,407.5 C579.5,408.5 581.1,408.6 585.4,408.4 C589.7,408.2 595.8,407.5 601.5,406.2 C607.2,404.9 616.7,401.4 619.7,400.4" fill="none" stroke="#000" stroke-width="3.2" stroke-linecap="round"/>
<path d="M493.9,383.2 C494.8,382.3 497.6,379.1 499.6,377.9 C501.6,376.6 503.4,375.5 506.1,375.7 C508.8,375.9 512.0,376.6 515.7,378.9 C519.5,381.2 524.0,385.9 528.6,389.7 C533.2,393.5 538.6,397.8 543.6,401.5 C548.6,405.2 554.0,409.5 558.6,412.2 C563.2,414.9 567.6,416.4 571.5,417.5 C575.4,418.6 577.5,419.0 581.8,419.0 C586.1,419.0 590.9,418.7 597.2,417.5 C603.5,416.3 616.0,412.7 619.7,411.7" fill="none" stroke="#0a0ad0" stroke-width="3.2" stroke-linecap="round"/>
<path d="M493.9,384.5 C495.0,383.6 498.7,379.1 500.7,379.4 C502.7,379.7 504.3,382.4 506.1,386.4 C507.9,390.4 509.4,397.3 511.4,403.6 C513.4,409.9 516.5,419.8 517.9,424.0 C519.3,428.2 517.5,424.4 520.0,428.6 C522.5,432.8 527.1,441.4 532.7,449.4 C538.3,457.4 546.0,468.8 553.5,476.4 C561.0,483.9 569.8,490.8 578.0,494.7 C586.2,498.6 595.5,499.0 602.5,499.6 C609.5,500.2 616.9,498.4 619.8,498.1" fill="none" stroke="#c80000" stroke-width="3.2" stroke-linecap="round"/>
<circle cx="500.9" cy="379.4" r="2.9" fill="#f4f400"/>
<circle cx="506.6" cy="375.6" r="2.9" fill="#f4f400"/>
<circle cx="513.8" cy="360.2" r="2.9" fill="#f4f400"/>
<circle cx="585.4" cy="408.6" r="2.5" fill="#10f010"/>
<circle cx="581.8" cy="419" r="2.5" fill="#10f010"/>
<circle cx="602.7" cy="499.7" r="2.5" fill="#10f010"/>
<text x="509.5" y="342.4" text-anchor="middle" font-family="'Liberation Sans', sans-serif" font-size="11.2" fill="#f08a30">A</text>
<line x1="507.3" y1="344.7" x2="502.6" y2="368.6" stroke="#f08a30" stroke-width="1.5"/>
<polygon points="501.2,375.5 499.9,368.1 505.2,369.2" fill="#f08a30"/>
<line x1="509.2" y1="344.7" x2="507.8" y2="366.0" stroke="#f08a30" stroke-width="1.5"/>
<polygon points="507.3,373.0 505.1,365.8 510.5,366.2" fill="#f08a30"/>
<line x1="512.1" y1="344.7" x2="512.7" y2="350.0" stroke="#f08a30" stroke-width="1.5"/>
<polygon points="513.5,357.0 510.0,350.4 515.4,349.7" fill="#f08a30"/>
<text x="592.3" y="454.6" text-anchor="middle" font-family="'Liberation Sans', sans-serif" font-size="11.2" fill="#f08a30">B</text>
<line x1="587.7" y1="444.4" x2="583.9" y2="428.6" stroke="#f08a30" stroke-width="1.5"/>
<polygon points="582.2,421.8 586.5,428.0 581.2,429.2" fill="#f08a30"/>
<line x1="594.4" y1="443.7" x2="588.0" y2="418.3" stroke="#f08a30" stroke-width="1.5"/>
<polygon points="586.3,411.5 590.6,417.6 585.4,418.9" fill="#f08a30"/>
<line x1="593.9" y1="457.6" x2="600.9" y2="490.0" stroke="#f08a30" stroke-width="1.5"/>
<polygon points="602.4,496.8 598.3,490.5 603.6,489.4" fill="#f08a30"/>
<line x1="550.5" y1="318.4" x2="579.5" y2="318.4" stroke="#000" stroke-width="1.3"/><circle cx="565" cy="318.4" r="1.4" fill="#000"/>
<line x1="550.5" y1="333.9" x2="579.5" y2="333.9" stroke="#1414e0" stroke-width="1.3"/><circle cx="565" cy="333.9" r="1.4" fill="#1414e0"/>
<line x1="550.5" y1="349.6" x2="579.5" y2="349.6" stroke="#d83030" stroke-width="1.3"/><circle cx="565" cy="349.6" r="1.4" fill="#d02020"/>
<text x="582.6" y="322.7" font-family="'Liberation Sans', sans-serif" font-size="13.2">8 wt%</text>
<text x="582.6" y="338.3" font-family="'Liberation Sans', sans-serif" font-size="13.2">6.7 wt%</text>
<text x="582.6" y="353.8" font-family="'Liberation Sans', sans-serif" font-size="13.2">5 wt%</text>
<text x="573.5" y="401.5" font-family="'Liberation Sans', sans-serif" font-size="12">72.6</text>
<text x="544.2" y="431" font-family="'Liberation Sans', sans-serif" font-size="12">71.5</text>
<rect x="485.4" y="448.9" width="35" height="10.5" fill="#f8c4c4"/>
<text x="502.9" y="457.3" text-anchor="middle" font-family="'Liberation Sans', sans-serif" font-size="10">Stage 1</text>
<rect x="530.3" y="502.6" width="35.7" height="11.8" fill="#f8c4c4"/>
<text x="548.1" y="511.8" text-anchor="middle" font-family="'Liberation Sans', sans-serif" font-size="10.3">Stage 2</text>
<rect x="593.9" y="509.2" width="35.2" height="13.5" fill="#f8c4c4"/>
<text x="611.5" y="519.7" text-anchor="middle" font-family="'Liberation Sans', sans-serif" font-size="10.3">Stage 3</text>
<line x1="482.5" y1="465.3" x2="490" y2="465.3" stroke="#000" stroke-width="1"/>
<polygon points="494,465.3 489,463.1 489,467.5" fill="#000"/>
<line x1="513" y1="465.3" x2="505.5" y2="465.3" stroke="#000" stroke-width="1"/>
<polygon points="501.5,465.3 506.5,463.1 506.5,467.5" fill="#000"/>
<line x1="526" y1="506.3" x2="505.3" y2="506.3" stroke="#000" stroke-width="1"/>
<polygon points="501.3,506.3 506.3,504.1 506.3,508.5" fill="#000"/>
<line x1="573" y1="506.3" x2="598.2" y2="506.3" stroke="#000" stroke-width="1"/>
<polygon points="602.2,506.3 597.2,504.1 597.2,508.5" fill="#000"/>
<line x1="611" y1="525.9" x2="607.2" y2="525.9" stroke="#000" stroke-width="1"/>
<polygon points="603.2,525.9 608.2,523.6999999999999 608.2,528.1" fill="#000"/>
<line x1="611" y1="525.9" x2="615.3" y2="525.9" stroke="#000" stroke-width="1"/>
<polygon points="619.3,525.9 614.3,523.6999999999999 614.3,528.1" fill="#000"/>
<text x="444.2" y="499.9" font-family="'Liberation Sans', sans-serif" font-size="12.2" fill="#ff1a1a">-75.3%</text>
<text x="569.8" y="535" font-family="'Liberation Sans', sans-serif" font-size="11.6" fill="#f01818">86.6%</text>
</svg></body></html>
